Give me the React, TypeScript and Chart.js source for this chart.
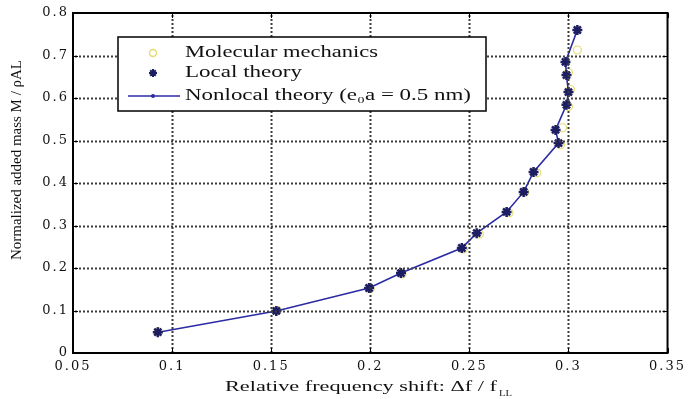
import React, { useEffect, useRef } from "react";
import { Chart, registerables } from "chart.js";

Chart.register(...registerables);

// ---- data ----
const xTickValues = [0.05, 0.1, 0.15, 0.2, 0.25, 0.3, 0.35];
const yTickValues = [0, 0.1, 0.2, 0.3, 0.4, 0.5, 0.6, 0.7, 0.8];

const localX = [0.0928, 0.1526, 0.1994, 0.2155, 0.2462, 0.2537, 0.2688, 0.2774, 0.2824, 0.295, 0.2935, 0.299, 0.3, 0.299, 0.2985, 0.3045];
const localY = [0.049, 0.099, 0.153, 0.188, 0.247, 0.282, 0.332, 0.379, 0.426, 0.494, 0.525, 0.584, 0.614, 0.654, 0.685, 0.76];

const nonlocalX = [0.093, 0.1526, 0.1994, 0.2155, 0.2462, 0.2537, 0.2688, 0.2774, 0.2824, 0.295, 0.2935, 0.299, 0.3, 0.299, 0.2985, 0.3045];
const nonlocalY = [0.049, 0.099, 0.153, 0.188, 0.247, 0.282, 0.332, 0.379, 0.426, 0.494, 0.525, 0.584, 0.614, 0.654, 0.685, 0.76];

const mmX = [0.093, 0.153, 0.2, 0.216, 0.247, 0.255, 0.27, 0.278, 0.284, 0.296, 0.297, 0.3, 0.301, 0.3, 0.3045];
const mmY = [0.05, 0.1, 0.152, 0.186, 0.245, 0.28, 0.33, 0.378, 0.424, 0.49, 0.53, 0.58, 0.62, 0.66, 0.713];

const legendLabels = ["Molecular mechanics", "Local theory", "Nonlocal theory (e\u2080a = 0.5 nm)"];
const xTitle = "Relative frequency shift: \u0394f / f";
const xTitleSub = "LL";
const yTitle = "Normalized added mass M / \u03C1AL";

const toPts = (xs: number[], ys: number[]) => xs.map((x, i) => ({ x, y: ys[i] }));

const LOCAL_COLOR = "#1d1d62";
const LINE_COLOR = "#2b2ba6";
const MM_COLOR = "rgba(222,214,90,0.85)";

function drawScaled(ctx: CanvasRenderingContext2D, text: string, x: number, y: number, width: number) {
  const w = ctx.measureText(text).width;
  const sx = width / w;
  ctx.save();
  ctx.translate(x, y);
  ctx.scale(sx, 1);
  ctx.textAlign = "left";
  ctx.fillText(text, 0, 0);
  ctx.restore();
}

function drawDottedGrid(chart: any) {
  const ctx: CanvasRenderingContext2D = chart.ctx;
  const { left, right, top, bottom } = chart.chartArea;
  const xs = chart.scales.x;
  const ys = chart.scales.y;
  ctx.save();
  ctx.fillStyle = "#3c3c3c";
  xTickValues.slice(1, -1).forEach((v) => {
    const px = Math.round(xs.getPixelForValue(v));
    for (let y = top + 2; y < bottom - 1; y += 4) ctx.fillRect(px - 0.5, y, 2, 2);
  });
  yTickValues.slice(1, -1).forEach((v) => {
    const py = Math.round(ys.getPixelForValue(v));
    for (let x = left + 2; x < right - 1; x += 4) ctx.fillRect(x, py - 0.5, 2, 2);
  });
  ctx.restore();
}

const framePlugin = {
  id: "matlabFrame",
  beforeDraw(chart: any) {
    chart.ctx.letterSpacing = "2px";
  },
  afterDraw(chart: any) {
    const ctx: CanvasRenderingContext2D = chart.ctx;
    ctx.letterSpacing = "0px";
    const { left, right, top, bottom } = chart.chartArea;
    const xs = chart.scales.x;
    const ys = chart.scales.y;

    drawDottedGrid(chart);

    // inward tick marks on all four sides
    ctx.save();
    ctx.strokeStyle = "#000";
    ctx.lineWidth = 1;
    ctx.beginPath();
    xTickValues.forEach((v) => {
      const px = Math.round(xs.getPixelForValue(v)) + 0.5;
      ctx.moveTo(px, bottom);
      ctx.lineTo(px, bottom - 5);
      ctx.moveTo(px, top);
      ctx.lineTo(px, top + 5);
    });
    yTickValues.forEach((v) => {
      const py = Math.round(ys.getPixelForValue(v)) + 0.5;
      ctx.moveTo(left, py);
      ctx.lineTo(left + 5, py);
      ctx.moveTo(right, py);
      ctx.lineTo(right - 5, py);
    });
    ctx.stroke();

    // box
    ctx.lineWidth = 2;
    ctx.strokeRect(left, top, right - left, bottom - top);
    ctx.restore();

    // legend
    ctx.save();
    const lx = 118, ly = 37, lw = 368, lh = 74;
    ctx.fillStyle = "#fff";
    ctx.fillRect(lx, ly, lw, lh);
    ctx.strokeStyle = "#000";
    ctx.lineWidth = 1.5;
    ctx.strokeRect(lx, ly, lw, lh);

    const rows = [53, 73, 96];
    const mx = 153;
    ctx.strokeStyle = MM_COLOR;
    ctx.lineWidth = 1.5;
    ctx.beginPath();
    ctx.arc(mx, rows[0], 3.5, 0, Math.PI * 2);
    ctx.stroke();
    ctx.strokeStyle = LOCAL_COLOR;
    ctx.lineWidth = 2;
    ctx.beginPath();
    for (let k = 0; k < 4; k++) {
      const a = (k * Math.PI) / 4;
      ctx.moveTo(mx - 4 * Math.cos(a), rows[1] - 4 * Math.sin(a));
      ctx.lineTo(mx + 4 * Math.cos(a), rows[1] + 4 * Math.sin(a));
    }
    ctx.stroke();
    ctx.strokeStyle = LINE_COLOR;
    ctx.lineWidth = 1.5;
    ctx.beginPath();
    ctx.moveTo(128, rows[2]);
    ctx.lineTo(180, rows[2]);
    ctx.stroke();
    ctx.fillStyle = LINE_COLOR;
    ctx.beginPath();
    ctx.arc(mx, rows[2], 2, 0, Math.PI * 2);
    ctx.fill();

    ctx.fillStyle = "#111";
    ctx.font = '16px "Liberation Serif"';
    ctx.textBaseline = "middle";
    const widths = [193, 117, 286];
    legendLabels.forEach((t, i) => drawScaled(ctx, t, 185, rows[i], widths[i]));
    ctx.restore();

    // x title
    ctx.save();
    ctx.fillStyle = "#111";
    ctx.textBaseline = "middle";
    ctx.font = '15px "Liberation Serif"';
    drawScaled(ctx, xTitle, 225, 387, 272);
    ctx.font = '9px "Liberation Serif"';
    drawScaled(ctx, xTitleSub, 499, 394, 13);
    ctx.restore();

    // y title
    ctx.save();
    ctx.fillStyle = "#111";
    ctx.textBaseline = "middle";
    ctx.font = '15px "Liberation Serif"';
    ctx.translate(17, 160);
    ctx.rotate(-Math.PI / 2);
    drawScaled(ctx, yTitle, -100, 0, 200);
    ctx.restore();
  },
};

export default function App() {
  const canvasRef = useRef<HTMLCanvasElement | null>(null);

  useEffect(() => {
    if (!canvasRef.current) return;
    const tickFont = { family: '"DejaVu Serif"', size: 13 };
    const fmt = (v: any) => String(Number(Number(v).toFixed(2)));
    const chart = new Chart(canvasRef.current, {
      type: "scatter",
      data: {
        datasets: [
          {
            label: legendLabels[1],
            data: toPts(localX, localY),
            showLine: false,
            pointStyle: "star",
            pointRadius: 5,
            borderColor: LOCAL_COLOR,
            backgroundColor: LOCAL_COLOR,
            borderWidth: 2.5,
            order: 0,
          },
          {
            label: legendLabels[2],
            data: toPts(nonlocalX, nonlocalY),
            showLine: true,
            borderColor: LINE_COLOR,
            borderWidth: 1.6,
            pointStyle: "circle",
            pointRadius: 1.6,
            pointBackgroundColor: LINE_COLOR,
            pointBorderWidth: 0,
            order: 1,
          },
          {
            label: legendLabels[0],
            data: toPts(mmX, mmY),
            showLine: false,
            pointStyle: "circle",
            pointRadius: 4,
            borderColor: MM_COLOR,
            backgroundColor: "rgba(0,0,0,0)",
            borderWidth: 1.2,
            order: 2,
          },
        ],
      },
      options: {
        animation: false,
        responsive: true,
        maintainAspectRatio: false,
        layout: { padding: { top: 13, right: 18, left: 0, bottom: 0 } },
        plugins: { legend: { display: false }, tooltip: { enabled: false } },
        scales: {
          x: {
            type: "linear",
            min: 0.05,
            max: 0.35,
            afterFit: (s: any) => { s.height = 46; },
            afterBuildTicks: (s: any) => { s.ticks = xTickValues.map((v) => ({ value: v })); },
            ticks: { stepSize: 0.05, callback: fmt, font: tickFont, color: "#111", padding: 6, maxRotation: 0, autoSkip: false },
            grid: { display: false, drawTicks: false },
            border: { display: false },
            title: { display: false },
          },
          y: {
            type: "linear",
            min: 0,
            max: 0.8,
            afterFit: (s: any) => { s.width = 73; },
            afterBuildTicks: (s: any) => { s.ticks = yTickValues.map((v) => ({ value: v })); },
            ticks: { stepSize: 0.1, callback: fmt, font: tickFont, color: "#111", padding: 4, autoSkip: false },
            grid: { display: false, drawTicks: false },
            border: { display: false },
            title: { display: false },
          },
        },
      },
      plugins: [framePlugin],
    } as any);
    return () => chart.destroy();
  }, []);

  return (
    <div style={{ position: "absolute", left: 0, top: 0, width: 688, height: 399, background: "#fff" }}>
      <canvas ref={canvasRef} />
    </div>
  );
}
